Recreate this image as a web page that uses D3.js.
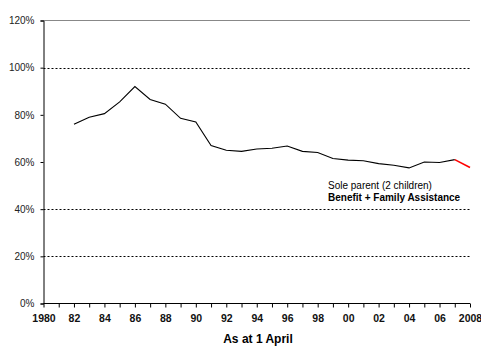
<!DOCTYPE html>
<html><head><meta charset="utf-8">
<script src="https://cdn.jsdelivr.net/npm/d3@7"></script>
<style>body{margin:0;background:#fff;} svg{display:block;}</style>
</head><body>
<svg id="c" width="481" height="361"></svg>
<script>
const years = [1982,1983,1984,1985,1986,1987,1988,1989,1990,1991,1992,1993,1994,1995,1996,1997,1998,1999,2000,2001,2002,2003,2004,2005,2006,2007];
const values = [76,79,80.5,85.5,92,86.5,84.5,78.5,77,67,65,64.5,65.5,65.8,66.8,64.5,64,61.5,60.8,60.5,59.3,58.6,57.5,60,59.8,61];
const projYears = [2007,2008];
const projValues = [61,57.7];
const yTicks = [0,20,40,60,80,100,120];
const gridValues = [20,40,100];
const xTickLabels = ["1980","82","84","86","88","90","92","94","96","98","00","02","04","06","2008"];
const xTickYears = [1980,1982,1984,1986,1988,1990,1992,1994,1996,1998,2000,2002,2004,2006,2008];
const seriesLabel = ["Sole parent (2 children)","Benefit + Family Assistance"];
const axisTitle = "As at 1 April";

const svg = d3.select("#c");
const x = d3.scaleLinear().domain([1980,2008]).range([43.5,470]);
const y = d3.scaleLinear().domain([0,120]).range([303.5,20.5]);
const font = "Liberation Sans, Arial, sans-serif";

// gridlines
svg.append("g").selectAll("line").data(gridValues).join("line")
  .attr("x1",x(1980)).attr("x2",470).attr("y1",d=>Math.round(y(d))+0.5).attr("y2",d=>Math.round(y(d))+0.5)
  .attr("stroke","#000").attr("stroke-width",1).attr("stroke-dasharray","2,2");
// top border
svg.append("line").attr("x1",x(1980)).attr("x2",470).attr("y1",y(120)).attr("y2",y(120))
  .attr("stroke","#888").attr("stroke-width",1.2);

// y axis
const yAxis = d3.axisLeft(y).tickValues(yTicks).tickSize(3).tickFormat(d=>d+"%");
const gy = svg.append("g").attr("transform",`translate(${x(1980)},0)`).call(yAxis);
gy.select(".domain").attr("stroke","#000");
gy.selectAll(".tick text").attr("font-family",font).attr("font-size",10).attr("fill","#222").attr("dx",-3);

// x axis
const yearTicks = d3.range(1980,2009);
const xAxis = d3.axisBottom(x).tickValues(yearTicks).tickSize(4).tickSizeOuter(0)
  .tickFormat(d=>{const i=xTickYears.indexOf(d);return i>=0?xTickLabels[i]:"";});
const gx = svg.append("g").attr("transform",`translate(0,${y(0)})`).call(xAxis);
gx.select(".domain").attr("stroke","#000").attr("d",`M${x(1980)},0H470`);
gx.selectAll(".tick text").attr("font-family",font).attr("font-size",10.5).attr("font-weight","bold").attr("fill","#111").attr("dy","1.1em");

// lines
const line = d3.line().x(d=>x(d[0])).y(d=>y(d[1]));
svg.append("path").datum(years.map((d,i)=>[d,values[i]])).attr("d",line)
  .attr("fill","none").attr("stroke","#000").attr("stroke-width",1.1);
svg.append("path").datum(projYears.map((d,i)=>[d,projValues[i]])).attr("d",line)
  .attr("fill","none").attr("stroke","#f00").attr("stroke-width",1.6);

// labels
svg.append("text").attr("x",328).attr("y",189).text(seriesLabel[0])
  .attr("font-family",font).attr("font-size",10).attr("fill","#000");
svg.append("text").attr("x",328).attr("y",201).text(seriesLabel[1])
  .attr("font-family",font).attr("font-size",10).attr("fill","#000").attr("font-weight","bold");
svg.append("text").attr("x",258).attr("y",343).attr("text-anchor","middle").text(axisTitle)
  .attr("font-family",font).attr("font-size",12).attr("font-weight","bold").attr("fill","#000");
</script>
</body></html>
